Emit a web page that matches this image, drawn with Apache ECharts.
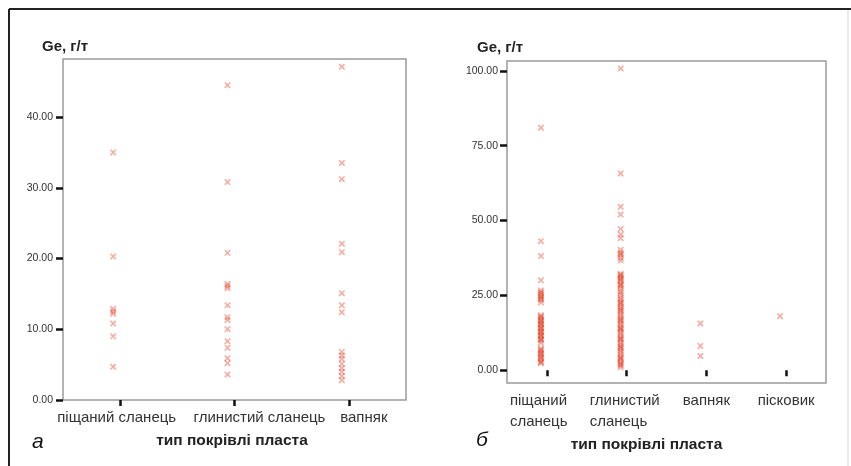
<!DOCTYPE html>
<html>
<head>
<meta charset="utf-8">
<script src="https://cdn.jsdelivr.net/npm/echarts@6/dist/echarts.min.js"></script>
<style>
html,body{margin:0;padding:0;background:#fff;}
#chart{width:851px;height:466px;}
</style>
</head>
<body>
<div id="chart"></div>
<script>
// ---- data (panel а) ----
var leftCategories = ['піщаний сланець', 'глинистий сланець', 'вапняк'];
var leftTicks = [0, 10, 20, 30, 40];
var aSandyShale = [35.0, 20.3, 12.9, 12.5, 12.2, 10.8, 9.0, 4.7];
var aClayShale = [44.5, 30.8, 20.8, 16.4, 16.1, 15.8, 13.4, 11.7, 11.3, 10.0, 8.3, 7.4, 5.9, 5.2, 3.6];
var aLimestone = [47.1, 33.5, 31.2, 22.1, 20.9, 15.1, 13.4, 12.4, 6.8, 6.3, 5.8, 5.1, 4.5, 4.0, 3.4, 2.8];

// ---- data (panel б) ----
var rightCategories = ['піщаний сланець', 'глинистий сланець', 'вапняк', 'пісковик'];
var rightTicks = [0, 25, 50, 75, 100];
var bSandyShale = [81.0, 43.1, 38.1, 30.0, 26.6, 26.0, 25.7, 25.1, 24.6, 24.3, 23.8, 23.4, 22.6, 18.3, 17.9, 17.6, 17.0, 16.6, 16.3, 15.7, 15.4, 15.1, 14.4, 14.0, 13.8, 13.1, 12.8, 12.5, 11.8, 11.5, 11.2, 10.5, 10.2, 9.9, 9.1, 7.2, 6.8, 6.5, 5.8, 5.5, 5.1, 4.5, 4.1, 3.7, 3.0, 2.6, 2.3];
var bClayShale = [100.8, 65.7, 54.6, 52.0, 47.2, 45.3, 44.1, 40.2, 39.3, 38.8, 38.4, 37.5, 36.6, 32.2, 31.8, 31.5, 30.9, 30.5, 30.1, 29.6, 28.8, 28.4, 28.1, 27.3, 26.4, 25.8, 25.0, 24.1, 23.5, 22.8, 22.4, 22.0, 21.3, 20.7, 20.2, 19.8, 19.2, 18.4, 17.7, 17.1, 16.7, 16.3, 15.6, 14.9, 14.2, 13.9, 13.5, 12.8, 12.2, 11.4, 10.7, 10.4, 10.1, 9.3, 8.6, 8.0, 7.6, 7.2, 6.5, 5.9, 5.1, 4.4, 4.0, 3.7, 3.0, 2.4, 1.9, 1.6, 1.0];
var bLimestone = [15.6, 8.1, 4.7];
var bSandstone = [18.0];

var yTitle = 'Ge, г/т';
var xName = 'тип покрівлі пласта';

// ---- build ----
function pts(cat, arr) { return arr.map(function (v) { return [cat, v]; }); }
var leftData = [].concat(
  pts(leftCategories[0], aSandyShale),
  pts(leftCategories[1], aClayShale),
  pts(leftCategories[2], aLimestone));
var rightData = [].concat(
  pts(rightCategories[0], bSandyShale),
  pts(rightCategories[1], bClayShale),
  pts(rightCategories[2], bLimestone),
  pts(rightCategories[3], bSandstone));

var FONT = '"Liberation Sans", Arial, sans-serif';
var xSym = 'path://M0,0 L2,0 L10,8 L10,10 L8,10 L0,2 Z M8,0 L10,0 L10,2 L2,10 L0,10 L0,8 Z';
var markStyle = { color: 'rgba(228,58,32,0.5)' };

var tickStyle = { color: '#111', width: 2.5 };

var chart = echarts.init(document.getElementById('chart'), null, { renderer: 'canvas' });
chart.setOption({
  backgroundColor: '#fff',
  animation: false,
  textStyle: { fontFamily: FONT },
  title: [
    { text: yTitle, left: 37, top: 34, textStyle: { fontFamily: FONT, fontSize: 15, fontWeight: 'bold', color: '#222' } },
    { text: yTitle, left: 472, top: 35, textStyle: { fontFamily: FONT, fontSize: 15, fontWeight: 'bold', color: '#222' } }
  ],
  grid: [
    { left: 63, top: 59, width: 343, height: 341, show: true, borderColor: '#9a9a9a', borderWidth: 1.5, backgroundColor: 'transparent' },
    { left: 507, top: 61, width: 319, height: 322, show: true, borderColor: '#9a9a9a', borderWidth: 1.5, backgroundColor: 'transparent' }
  ],
  xAxis: [
    {
      gridIndex: 0, type: 'category', data: leftCategories, boundaryGap: true,
      axisLine: { show: false },
      axisTick: { show: true, alignWithLabel: true, length: 6, lineStyle: tickStyle },
      axisLabel: {
        margin: 10, fontSize: 15, color: '#333', interval: 0,
        formatter: function (v, i) { return '{c' + i + '|' + v + '}'; },
        rich: {
          c0: { fontSize: 15, color: '#333', fontFamily: FONT, padding: [0, 7, 0, 0] },
          c1: { fontSize: 15, color: '#333', fontFamily: FONT, padding: [0, 0, 0, 50] },
          c2: { fontSize: 15, color: '#333', fontFamily: FONT, padding: [0, 0, 0, 30] }
        }
      },
      splitLine: { show: false },
      name: xName, nameLocation: 'middle', nameGap: 33,
      nameTextStyle: { fontFamily: FONT, fontSize: 15.5, fontWeight: 'bold', color: '#222', padding: [0, 5, 0, 0] }
    },
    {
      gridIndex: 1, type: 'category', data: rightCategories, boundaryGap: true,
      axisLine: { show: false },
      axisTick: { show: true, alignWithLabel: true, length: 6, lineStyle: tickStyle },
      axisLabel: {
        margin: 7, fontSize: 15, color: '#333', interval: 0, lineHeight: 21,
        formatter: function (v) {
          var parts = v.split(' ');
          if (parts.length > 1) return parts.map(function (p) { return '{w|' + p + '}'; }).join('\n');
          return '{s|' + v + '}';
        },
        rich: {
          w: { fontSize: 15, color: '#333', fontFamily: FONT, width: 74, align: 'left', lineHeight: 21 },
          s: { fontSize: 15, color: '#333', fontFamily: FONT, lineHeight: 21 }
        }
      },
      splitLine: { show: false },
      name: xName, nameLocation: 'middle', nameGap: 52,
      nameTextStyle: { fontFamily: FONT, fontSize: 15.5, fontWeight: 'bold', color: '#222', padding: [0, 40, 0, 0] }
    }
  ],
  yAxis: [
    {
      gridIndex: 0, type: 'value', min: 0, max: 48.2,
      axisLine: { show: false },
      axisTick: { show: true, length: 7, lineStyle: tickStyle, customValues: leftTicks },
      axisLabel: { margin: 10, fontSize: 10.5, color: '#333', customValues: leftTicks,
        formatter: function (v) { return v.toFixed(2); } },
      splitLine: { show: false }
    },
    {
      gridIndex: 1, type: 'value', min: -4.3, max: 103.3,
      axisLine: { show: false },
      axisTick: { show: true, length: 7, lineStyle: tickStyle, customValues: rightTicks },
      axisLabel: { margin: 9, fontSize: 10.5, color: '#333', customValues: rightTicks,
        formatter: function (v) { return v.toFixed(2); } },
      splitLine: { show: false }
    }
  ],
  series: [
    { type: 'scatter', xAxisIndex: 0, yAxisIndex: 0, data: leftData, symbol: xSym, symbolSize: 6,
      symbolOffset: [-7, 0], itemStyle: markStyle },
    { type: 'scatter', xAxisIndex: 1, yAxisIndex: 1, data: rightData, symbol: xSym, symbolSize: 6,
      symbolOffset: [-6, 0], itemStyle: markStyle }
  ],
  graphic: [
    { type: 'line', shape: { x1: 9, y1: 9, x2: 851, y2: 9 }, style: { stroke: '#222', lineWidth: 2 } },
    { type: 'line', shape: { x1: 9, y1: 9, x2: 9, y2: 466 }, style: { stroke: '#222', lineWidth: 2 } },
    { type: 'line', shape: { x1: 848, y1: 10, x2: 848, y2: 466 }, style: { stroke: '#d8d8d8', lineWidth: 1 } },
    { type: 'text', left: 32, top: 432, style: { text: 'а', font: 'italic 21px ' + FONT, fill: '#111' } },
    { type: 'text', left: 476, top: 430, style: { text: 'б', font: 'italic 21px ' + FONT, fill: '#111' } }
  ]
});
</script>
</body>
</html>
